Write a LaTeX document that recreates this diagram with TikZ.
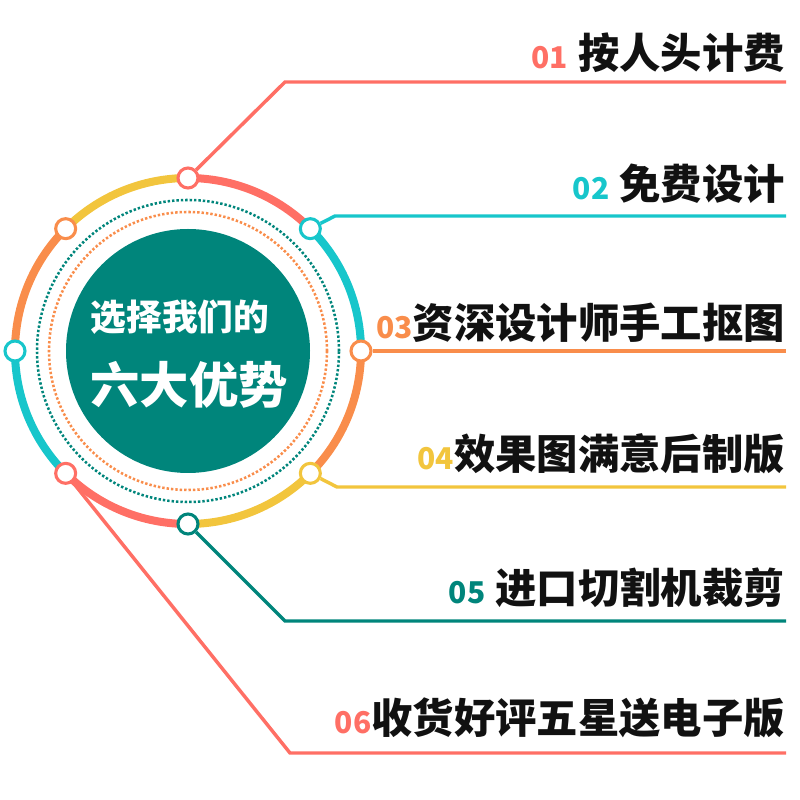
\documentclass[tikz,border=0pt]{standalone}
\usepackage{fontspec}
\newfontfamily\cjk{Noto Sans CJK SC}
\definecolor{salmon}{HTML}{FF6F65}
\definecolor{cyanc}{HTML}{17C6CB}
\definecolor{orangec}{HTML}{F98D4B}
\definecolor{yellowc}{HTML}{F2C53D}
\definecolor{tealc}{HTML}{00857B}
\definecolor{ink}{HTML}{111111}
\newcommand{\numsz}{\fontsize{22.5pt}{22.5pt}\selectfont}
\begin{document}
\begin{tikzpicture}[x=0.75pt,y=0.75pt,
  ring/.style={line width=6pt},
  conn/.style={line width=2.6pt},
  dotnode/.style={circle, draw, line width=2.3pt, fill=white, minimum size=15pt, inner sep=0pt},
  lbl/.style={anchor=base east, inner sep=0pt, text=ink, font=\cjk\bfseries\fontsize{31pt}{31pt}\selectfont},
  dotted ring/.style={line width=1.9pt, dash pattern=on 1.8pt off 1.5pt}]
\useasboundingbox (0,0) rectangle (800,800);
\coordinate (C) at (188,449);
% dotted rings
\draw[dotted ring, tealc] (C) circle[radius=151];
\draw[dotted ring, orangec] (C) circle[radius=139];
% inner disc
\fill[tealc] (C) circle[radius=122];
\node[anchor=base, inner sep=0pt, text=white, font=\cjk\bfseries\fontsize{26.8pt}{26.8pt}\selectfont] (h1) at (180,469.5) {选择我们的};
\node[anchor=base, inner sep=0pt, text=white, font=\cjk\bfseries\fontsize{37pt}{37pt}\selectfont] (h2) at (189,396.4) {六大优势};
% ring arcs
\foreach \a/\b/\c in {90/45/salmon, 45/0/cyanc, 0/-45/orangec, -45/-90/yellowc, -90/-135/salmon, -135/-180/cyanc, 180/135/orangec, 135/90/yellowc}
  \draw[ring,\c] (C) ++(\a:173) arc[start angle=\a, end angle=\b, radius=173];
% small circles
\path (C) ++(90:173) node[dotnode, draw=salmon] (n90) {};
\path (C) ++(45:173) node[dotnode, draw=cyanc] (n45) {};
\path (C) ++(0:173) node[dotnode, draw=orangec] (n0) {};
\path (C) ++(-45:173) node[dotnode, draw=yellowc] (n315) {};
\path (C) ++(-90:173) node[dotnode, draw=tealc] (n270) {};
\path (C) ++(-135:173) node[dotnode, draw=salmon] (n225) {};
\path (C) ++(180:173) node[dotnode, draw=cyanc] (n180) {};
\path (C) ++(135:173) node[dotnode, draw=orangec] (n135) {};
% corners and ends
\coordinate (k1) at (285,718); \coordinate (e1) at (786,718);
\coordinate (k2) at (335,584); \coordinate (e2) at (786,584);
\coordinate (e3) at (786,449);
\coordinate (k4) at (337,313); \coordinate (e4) at (786,313);
\coordinate (k5) at (285,179); \coordinate (e5) at (786,179);
\coordinate (k6) at (290,47);  \coordinate (e6) at (786,47);
% connectors
\draw[conn, salmon] (n90) -- (k1) -- (e1);
\draw[conn, cyanc] (n45) -- (k2) -- (e2);
\draw[conn, orangec] (n0) -- (e3);
\draw[conn, yellowc] (n315) -- (k4) -- (e4);
\draw[conn, tealc] (n270) -- (k5) -- (e5);
\draw[conn, salmon] (n225) -- (k6) -- (e6);
% labels
\node[lbl] (t1) at (785,731) {{\color{salmon}\numsz 01}\hspace{7.5pt}按人头计费};
\node[lbl] (t2) at (785,600) {{\color{cyanc}\numsz 02}\hspace{7.5pt}免费设计};
\node[lbl] (t3) at (785,461) {{\color{orangec}\numsz 03}资深设计师手工抠图};
\node[lbl] (t4) at (785,330) {{\color{yellowc}\numsz 04}效果图满意后制版};
\node[lbl] (t5) at (785,196) {{\color{tealc}\numsz 05}\hspace{7.5pt}进口切割机裁剪};
\node[lbl] (t6) at (785,66) {{\color{salmon}\numsz 06}收货好评五星送电子版};
\end{tikzpicture}
\end{document}
